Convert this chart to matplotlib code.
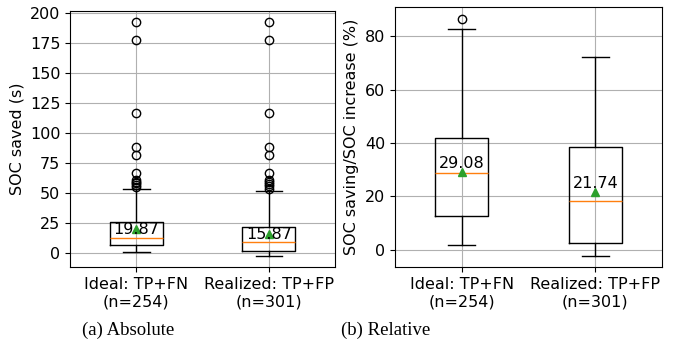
import matplotlib
matplotlib.use("Agg")
import matplotlib.pyplot as plt

labels = ["Ideal: TP+FN\n(n=254)", "Realized: TP+FP\n(n=301)"]

# Absolute (s)
abs_q1 = [6.9, 2.2]
abs_med = [13.0, 9.1]
abs_q3 = [26.0, 21.6]
abs_wlo = [1.1, -2.2]
abs_whi = [53.7, 51.5]
abs_mean = [19.87, 15.87]
abs_fliers = [
    [192, 177, 117, 88.5, 81.5, 66.5, 61, 59.5, 58, 56.5, 55],
    [192, 177, 117, 88.5, 81.5, 66.5, 61, 59.5, 57.5, 55.5, 53.5],
]

# Relative (%)
rel_q1 = [12.7, 2.6]
rel_med = [28.6, 18.2]
rel_q3 = [42.0, 38.5]
rel_wlo = [1.6, -2.2]
rel_whi = [82.6, 72.1]
rel_mean = [29.08, 21.74]
rel_fliers = [[86.4], []]

captions = ["(a) Absolute", "(b) Relative"]
ylabels = ["SOC saved (s)", "SOC saving/SOC increase (%)"]


def make_stats(q1, med, q3, wlo, whi, mean, fliers):
    out = []
    for i in range(len(q1)):
        out.append(dict(q1=q1[i], med=med[i], q3=q3[i], whislo=wlo[i],
                        whishi=whi[i], mean=mean[i], fliers=fliers[i]))
    return out


FS = 11.5
fig = plt.figure(figsize=(6.77, 3.6), dpi=100)
ax1 = fig.add_axes([70 / 677, 1 - 267 / 360, 265 / 677, 256 / 360])
ax2 = fig.add_axes([395 / 677, 1 - 267 / 360, 267 / 677, 260 / 360])

panels = [
    (ax1, make_stats(abs_q1, abs_med, abs_q3, abs_wlo, abs_whi, abs_mean, abs_fliers), abs_mean, 0),
    (ax2, make_stats(rel_q1, rel_med, rel_q3, rel_wlo, rel_whi, rel_mean, rel_fliers), rel_mean, 6),
]

for k, (ax, stats, means, off) in enumerate(panels):
    ax.bxp(stats, showmeans=True, widths=0.4)
    ax.set_xticks([1, 2])
    ax.set_xticklabels(labels, fontsize=FS)
    ax.tick_params(axis="y", labelsize=FS)
    ax.set_ylabel(ylabels[k], fontsize=FS)
    ax.grid(True, color="#b0b0b0", linewidth=0.8)
    ax.set_axisbelow(True)
    for i, m in enumerate(means):
        ax.annotate(f"{m:.2f}", xy=(i + 1, m), xytext=(0, off),
                    textcoords="offset points", ha="center", va="center",
                    fontsize=FS)

ax1.set_ylim(-11.5, 201.5)
ax1.set_yticks([0, 25, 50, 75, 100, 125, 150, 175, 200])
ax2.set_ylim(-6.5, 91)
ax2.set_yticks([0, 20, 40, 60, 80])

fig.text(128 / 677, 1 - 330 / 360, captions[0], ha="center", va="center",
         fontsize=13.5, family="Liberation Serif")
fig.text(386 / 677, 1 - 330 / 360, captions[1], ha="center", va="center",
         fontsize=13.5, family="Liberation Serif")

fig.savefig("out.png", dpi=100)
